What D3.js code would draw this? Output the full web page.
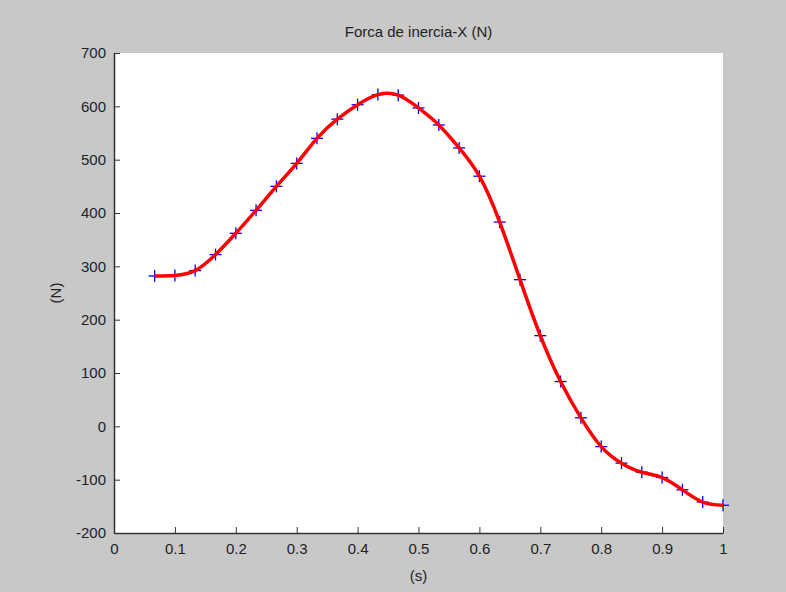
<!DOCTYPE html>
<html>
<head>
<meta charset="utf-8">
<script src="https://cdn.jsdelivr.net/npm/d3@7"></script>
<style>
  body { margin: 0; background: #c8c8c8; }
  text { font-family: "Liberation Sans", Arial, sans-serif; fill: #222; }
</style>
</head>
<body>
<div id="chart"></div>
<script>
// sample times (s) and inertia force (N)
var times = [0.0667, 0.1, 0.1333, 0.1667, 0.2, 0.2333, 0.2667, 0.3, 0.3333, 0.3667,
             0.4, 0.4333, 0.4667, 0.5, 0.5333, 0.5667, 0.6, 0.6333, 0.6667, 0.7,
             0.7333, 0.7667, 0.8, 0.8333, 0.8667, 0.9, 0.9333, 0.9667, 1.0];
var forces = [282, 283, 292, 322, 362, 405, 450, 493, 540, 576,
              603, 622, 621, 597, 565, 522, 469, 383, 275, 170,
              84, 16, -38, -69, -86, -96, -119, -142, -148];
var xTicks = [0, 0.1, 0.2, 0.3, 0.4, 0.5, 0.6, 0.7, 0.8, 0.9, 1];
var yTicks = [-200, -100, 0, 100, 200, 300, 400, 500, 600, 700];

var width = 786, height = 592;
var plotLeft = 114, plotRight = 723, plotTop = 53, plotBottom = 533;

var svg = d3.select('#chart').append('svg')
            .attr('width', width)
            .attr('height', height);

svg.append('rect')
   .attr('width', width).attr('height', height)
   .attr('fill', '#c8c8c8');

svg.append('rect')
   .attr('x', plotLeft).attr('y', plotTop)
   .attr('width', plotRight - plotLeft).attr('height', plotBottom - plotTop)
   .attr('fill', '#ffffff');

var x = d3.scaleLinear().domain([0, 1]).range([plotLeft, plotRight]);
var y = d3.scaleLinear().domain([-200, 700]).range([plotBottom, plotTop]);

var xAxis = svg.append('g')
               .attr('transform', 'translate(0,' + plotBottom + ')')
               .call(d3.axisBottom(x).tickValues(xTicks).tickSizeInner(-6).tickSizeOuter(0)
                       .tickPadding(10).tickFormat(function(d) { return String(d); }));

var yAxis = svg.append('g')
               .attr('transform', 'translate(' + plotLeft + ',0)')
               .call(d3.axisLeft(y).tickValues(yTicks).tickSizeInner(-6).tickSizeOuter(0)
                       .tickPadding(8).tickFormat(function(d) { return String(d); }));

[xAxis, yAxis].forEach(function(ax) {
  ax.select('.domain').attr('stroke', '#333').attr('stroke-width', 1.5);
  ax.selectAll('.tick line').attr('stroke', '#333');
  ax.selectAll('.tick text').style('font-size', '15px').attr('fill', '#222');
});

var data = times.map(function(t, i) { return {t: t, f: forces[i]}; });

// blue + markers
var markers = svg.append('g');
data.forEach(function(d) {
  var cx = x(d.t), cy = y(d.f);
  markers.append('line')
         .attr('x1', cx - 6).attr('x2', cx + 6)
         .attr('y1', cy).attr('y2', cy)
         .attr('stroke', '#0000ff').attr('stroke-width', 1.3);
  markers.append('line')
         .attr('x1', cx).attr('x2', cx)
         .attr('y1', cy - 6).attr('y2', cy + 6)
         .attr('stroke', '#0000ff').attr('stroke-width', 1.3);
});

// red interpolated curve
var line = d3.line()
             .x(function(d) { return x(d.t); })
             .y(function(d) { return y(d.f); })
             .curve(d3.curveNatural);

svg.append('path')
   .datum(data)
   .attr('d', line)
   .attr('fill', 'none')
   .attr('stroke', '#ff0000')
   .attr('stroke-width', 3.5);

svg.append('text')
   .attr('x', (plotLeft + plotRight) / 2)
   .attr('y', 37)
   .attr('text-anchor', 'middle')
   .style('font-size', '15px')
   .text('Forca de inercia-X (N)');

svg.append('text')
   .attr('x', (plotLeft + plotRight) / 2)
   .attr('y', 581)
   .attr('text-anchor', 'middle')
   .style('font-size', '15px')
   .text('(s)');

svg.append('text')
   .attr('transform', 'translate(61,' + ((plotTop + plotBottom) / 2) + ') rotate(-90)')
   .attr('text-anchor', 'middle')
   .style('font-size', '15px')
   .text('(N)');
</script>
</body>
</html>
